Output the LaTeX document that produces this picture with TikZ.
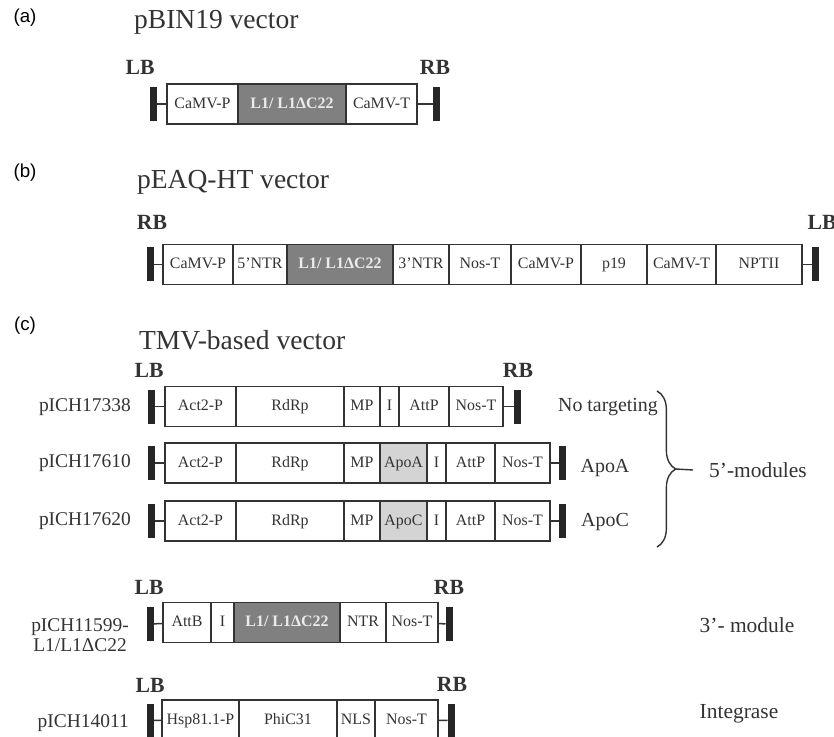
\documentclass[tikz,border=0pt]{standalone}
\usepackage{fontspec}
\setmainfont{Liberation Serif}
\newfontfamily\panelfont{Liberation Sans}
\usetikzlibrary{positioning,decorations.pathreplacing}
\definecolor{ink}{HTML}{333333}
\definecolor{insgray}{HTML}{808080}
\definecolor{apogray}{HTML}{D4D4D4}
\newlength{\px}
\setlength{\px}{0.03cm}

\begin{document}
\begin{tikzpicture}[x=0.03cm, y=-0.03cm,
    seg/.style={draw=ink, line width=1.3pt, minimum height=40*\px, inner sep=0pt, outer sep=0pt,
        text=ink, text height=9.5pt, text depth=2.5pt, font=\fontsize{13.6}{15}\selectfont},
    ins/.style={seg, fill=insgray, text=black!8, font=\fontsize{13.6}{15}\selectfont\bfseries},
    apo/.style={seg, fill=apogray},
    bar/.style={fill=black!85, minimum width=7*\px, minimum height=34*\px, inner sep=0pt, outer sep=0pt},
    link/.style={draw=ink, line width=1.3pt},
    border/.style={text=ink, font=\fontsize{18.5}{20}\selectfont\bfseries},
    title/.style={text=ink, anchor=base west, font=\fontsize{23.5}{26}\selectfont},
    panel/.style={font=\panelfont\fontsize{16}{18}\selectfont},
    rowname/.style={text=ink, anchor=east, font=\fontsize{16.6}{17}\selectfont},
    note/.style={text=ink, font=\fontsize{17}{19}\selectfont}]

    \clip (0,0) rectangle (834,737);

    % (a) pBIN19
    \node[panel] (pa) at (25,18) {(a)};
    \node[title] (ta) at (130,29) {pBIN19 vector};
    \node[border] (aLB) at (140,67) {LB};
    \node[border] (aRB) at (435,67) {RB};
    \node[seg, anchor=west, minimum width=71*\px] (a1) at (167,104) {CaMV-P};
    \node[ins, minimum width=108*\px, right=0pt of a1] (a2) {L1/ L1ΔC22};
    \node[seg, minimum width=71*\px, right=0pt of a2] (a3) {CaMV-T};
    \node[bar] (aL) at (153.5,104) {};
    \node[bar] (aR) at (436,104) {};
    \draw[link] (aL) -- (a1);
    \draw[link] (a3) -- (aR);

    % (b) pEAQ-HT
    \node[panel] (pb) at (25,173) {(b)};
    \node[title] (tb) at (133,189) {pEAQ-HT vector};
    \node[border] (bRB) at (152,222) {RB};
    \node[border] (bLB) at (822,222) {LB};
    \node[seg, anchor=west, minimum width=70*\px] (b1) at (163,264.5) {CaMV-P};
    \node[seg, minimum width=54*\px, right=0pt of b1] (b2) {5’NTR};
    \node[ins, minimum width=106*\px, right=0pt of b2] (b3) {L1/ L1ΔC22};
    \node[seg, minimum width=56*\px, right=0pt of b3] (b4) {3’NTR};
    \node[seg, minimum width=62*\px, right=0pt of b4] (b5) {Nos-T};
    \node[seg, minimum width=70*\px, right=0pt of b5] (b6) {CaMV-P};
    \node[seg, minimum width=66*\px, right=0pt of b6] (b7) {p19};
    \node[seg, minimum width=69*\px, right=0pt of b7] (b8) {CaMV-T};
    \node[seg, minimum width=86*\px, right=0pt of b8] (b9) {NPTII};
    \node[bar] (bL) at (150,264.5) {};
    \node[bar] (bR) at (815.5,264.5) {};
    \draw[link] (bL) -- (b1);
    \draw[link] (b9) -- (bR);

    % (c) TMV
    \node[panel] (pc) at (25,326) {(c)};
    \node[title] (tc) at (135,349) {TMV-based vector};
    \node[border] (cLB) at (149,370) {LB};
    \node[border] (cRB) at (518,370) {RB};

    \node[rowname] (n1) at (135,407) {pICH17338};
    \node[seg, anchor=west, minimum width=71*\px] (c11) at (165,406.5) {Act2-P};
    \node[seg, minimum width=108*\px, right=0pt of c11] (c12) {RdRp};
    \node[seg, minimum width=36*\px, right=0pt of c12] (c13) {MP};
    \node[seg, minimum width=19*\px, right=0pt of c13] (c14) {I};
    \node[seg, minimum width=50*\px, right=0pt of c14] (c15) {AttP};
    \node[seg, minimum width=54*\px, right=0pt of c15] (c16) {Nos-T};
    \node[bar] (c1L) at (151,406.5) {};
    \node[bar] (c1R) at (517,406.5) {};
    \draw[link] (c1L) -- (c11);
    \draw[link] (c16) -- (c1R);

    \node[rowname] (n2) at (135,463) {pICH17610};
    \node[seg, anchor=west, minimum width=71*\px] (c21) at (165,463) {Act2-P};
    \node[seg, minimum width=108*\px, right=0pt of c21] (c22) {RdRp};
    \node[seg, minimum width=36*\px, right=0pt of c22] (c23) {MP};
    \node[apo, minimum width=47*\px, right=0pt of c23] (c24) {ApoA};
    \node[seg, minimum width=19*\px, right=0pt of c24] (c25) {I};
    \node[seg, minimum width=49*\px, right=0pt of c25] (c26) {AttP};
    \node[seg, minimum width=55*\px, right=0pt of c26] (c27) {Nos-T};
    \node[bar] (c2L) at (151,463) {};
    \node[bar] (c2R) at (562,463) {};
    \draw[link] (c2L) -- (c21);
    \draw[link] (c27) -- (c2R);

    \node[rowname] (n3) at (135,521) {pICH17620};
    \node[seg, anchor=west, minimum width=71*\px] (c31) at (165,521) {Act2-P};
    \node[seg, minimum width=108*\px, right=0pt of c31] (c32) {RdRp};
    \node[seg, minimum width=36*\px, right=0pt of c32] (c33) {MP};
    \node[apo, minimum width=47*\px, right=0pt of c33] (c34) {ApoC};
    \node[seg, minimum width=19*\px, right=0pt of c34] (c35) {I};
    \node[seg, minimum width=49*\px, right=0pt of c35] (c36) {AttP};
    \node[seg, minimum width=55*\px, right=0pt of c36] (c37) {Nos-T};
    \node[bar] (c3L) at (151,521) {};
    \node[bar] (c3R) at (562,521) {};
    \draw[link] (c3L) -- (c31);
    \draw[link] (c37) -- (c3R);

    \node[note] (m1) at (608,407) {No targeting};
    \node[note] (m2) at (605,468) {ApoA};
    \node[note] (m3) at (605,522) {ApoC};
    \coordinate (brtop) at (657,391);
    \coordinate (brbot) at (657,547);
    \coordinate (brtip) at (676,469);
    \draw[ink, line width=1.2pt, decorate, decoration={brace, amplitude=16pt}] (brtop) -- (brbot);
    \node[note, anchor=west, font=\fontsize{18.3}{20}\selectfont] (mods) at (705,470) {5’-modules};
    \draw[link, line width=1.2pt] (brtip) -- ([xshift=-12*\px]mods.west);

    % pICH11599
    \node[border] (dLB) at (149,587) {LB};
    \node[border] (dRB) at (449,587) {RB};
    \node[rowname, align=center] (n4) at (133,635) {pICH11599-\\L1/L1ΔC22};
    \node[seg, anchor=west, minimum width=48*\px] (d1) at (163,622.5) {AttB};
    \node[seg, minimum width=23*\px, right=0pt of d1] (d2) {I};
    \node[ins, minimum width=106*\px, right=0pt of d2] (d3) {L1/ L1ΔC22};
    \node[seg, minimum width=46*\px, right=0pt of d3] (d4) {NTR};
    \node[seg, minimum width=52*\px, right=0pt of d4] (d5) {Nos-T};
    \node[bar] (dL) at (150,624) {};
    \node[bar] (dR) at (449,624) {};
    \draw[link] (dL) -- (d1);
    \draw[link] (d5) -- (dR);
    \node[note, font=\fontsize{18.3}{20}\selectfont] (m4) at (747,625) {3’- module};

    % pICH14011
    \node[border] (eLB) at (150,685) {LB};
    \node[border] (eRB) at (452,684) {RB};
    \node[rowname] (n5) at (133,723) {pICH14011};
    \node[seg, anchor=west, minimum width=77*\px] (e1) at (162,720) {Hsp81.1-P};
    \node[seg, minimum width=98*\px, right=0pt of e1] (e2) {PhiC31};
    \node[seg, minimum width=38*\px, right=0pt of e2] (e3) {NLS};
    \node[seg, minimum width=63*\px, right=0pt of e3] (e4) {Nos-T};
    \node[bar] (eL) at (150.5,720.5) {};
    \node[bar] (eR) at (451,720.5) {};
    \draw[link] (eL) -- (e1);
    \draw[link] (e4) -- (eR);
    \node[note, font=\fontsize{18.3}{20}\selectfont] (m5) at (739,714) {Integrase};

\end{tikzpicture}
\end{document}
